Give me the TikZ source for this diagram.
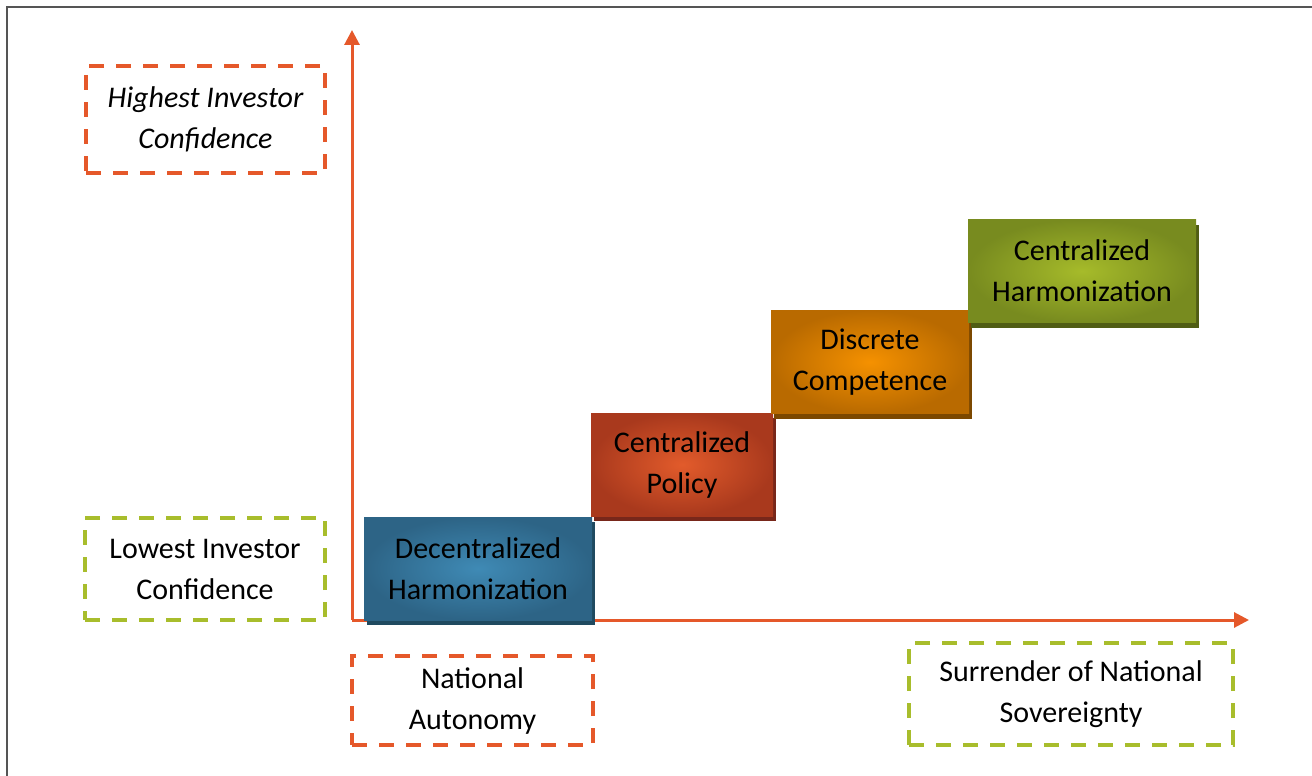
\documentclass[tikz,border=0pt]{standalone}
\usepackage{fontspec}
\setmainfont{Carlito}
\usepackage{xcolor}
\usetikzlibrary{arrows.meta,shadows}

\definecolor{axisorange}{HTML}{E5582A}
\definecolor{limegreen}{HTML}{A8BD2C}
\definecolor{framegray}{HTML}{555555}
% stage fills: centre, edge, shadow
\definecolor{blueC}{HTML}{3F8AB5}\definecolor{blueE}{HTML}{2D6486}\definecolor{blueS}{HTML}{1F4A60}
\definecolor{redC}{HTML}{E25B2B}\definecolor{redE}{HTML}{A9391D}\definecolor{redS}{HTML}{78271A}
\definecolor{orgC}{HTML}{F59100}\definecolor{orgE}{HTML}{B96A00}\definecolor{orgS}{HTML}{7C4800}
\definecolor{grnC}{HTML}{A6BB2A}\definecolor{grnE}{HTML}{788B1F}\definecolor{grnS}{HTML}{505D14}

\begin{document}
\begin{tikzpicture}[x=1pt, y=-1pt, >={Triangle[length=15pt,width=15pt]},
  every node/.style={font=\fontsize{30}{41}\selectfont, align=center, inner sep=0pt},
  stage/.style n args={3}{minimum height=103pt, shading=radial, inner color=#1, outer color=#2,
    drop shadow={shadow xshift=3pt, shadow yshift=-5pt, fill=#3, opacity=1}},
  tag/.style={draw=#1, line width=3.5pt, dash pattern=on 15pt off 12pt}]
\useasboundingbox (0,0) rectangle (1312,776);

% frame
\draw[framegray, line width=1.5pt] (7,776) -- (7,7) -- (1312,7);

% axes
\coordinate (O) at (352,620);
\coordinate (ytip) at (352,30);
\coordinate (xtip) at (1249,620);
\draw[->, axisorange, line width=3pt] (O) -- (ytip);
\draw[->, axisorange, line width=3pt] (O) -- (xtip);

% stages
\node[stage={blueC}{blueE}{blueS}, minimum width=228pt] (decentral) at (478,568.5) {Decentralized\\Harmonization};
\node[stage={redC}{redE}{redS}, minimum width=182pt] (centralpolicy) at (682,464.5) {Centralized\\Policy};
\node[stage={orgC}{orgE}{orgS}, minimum width=198pt] (discrete) at (870,362) {Discrete\\Competence};
\node[stage={grnC}{grnE}{grnS}, minimum width=228pt] (centralharm) at (1082,271) {Centralized\\Harmonization};

% labels
\node[tag=axisorange, minimum width=239pt, minimum height=107pt] (highconf) at (205.5,119.5) {\itshape Highest Investor\\\itshape Confidence};
\node[tag=limegreen, minimum width=240pt, minimum height=102pt] (lowconf) at (205,569) {Lowest Investor\\Confidence};
\node[tag=axisorange, minimum width=241pt, minimum height=89pt] (autonomy) at (472.5,700.5) {National\\Autonomy};
\node[tag=limegreen, minimum width=324pt, minimum height=102pt] (surrender) at (1071,694) {Surrender of National\\Sovereignty};
\end{tikzpicture}
\end{document}
